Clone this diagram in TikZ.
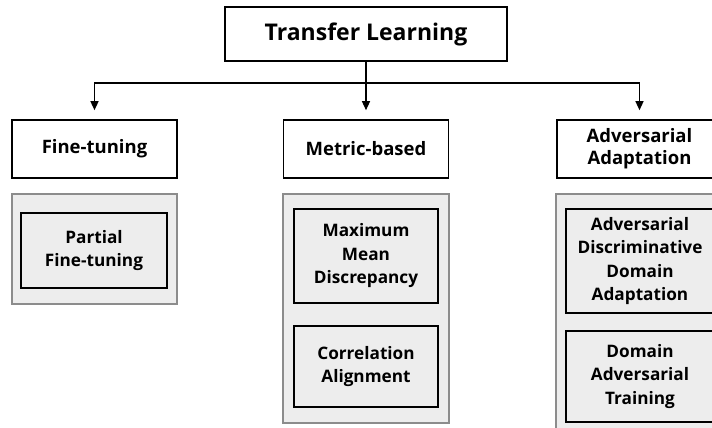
\documentclass[tikz,border=0pt]{standalone}
\usepackage{fontspec}
\setmainfont{Open Sans}
\usetikzlibrary{arrows.meta}
\definecolor{panelfill}{RGB}{237,237,237}
\definecolor{panelline}{RGB}{140,140,140}
\tikzset{
  catbox/.style={draw=black, line width=1.6pt, fill=white, minimum width=165pt,
    minimum height=58pt, align=center, font=\bfseries\fontsize{18.5}{22}\selectfont, inner sep=0pt},
  rootbox/.style={draw=black, line width=1.6pt, fill=white, minimum width=282pt,
    minimum height=54pt, font=\bfseries\fontsize{23}{27}\selectfont, inner sep=0pt},
  panel/.style={draw=panelline, line width=1.2pt, fill=panelfill},
  methodbox/.style={draw=black, line width=1.6pt, align=center, inner sep=0pt,
    font=\bfseries\fontsize{17.2}{23.5}\selectfont},
  link/.style={line width=1.3pt, -{Triangle[length=9pt,width=8pt]}, shorten >=9pt}
}
\begin{document}
\begin{tikzpicture}[x=1pt,y=-1pt]
\useasboundingbox (0,0) rectangle (712,428);
\begin{scope}
\clip (0,0) rectangle (712,428);

% grey panels holding the methods of each family
\draw[panel] (12,194) rectangle (177,304);
\draw[panel] (283,194) rectangle (449,423);
\draw[panel] (556,194) rectangle (724,440);

% root and the three families
\node[rootbox] (root) at (366,34) {Transfer Learning};
\node[catbox] (ft) at (94.5,149) {Fine-tuning};
\node[catbox] (mb) at (366,149) {Metric-based};
\node[catbox] (aa) at (639.5,149) {Adversarial\\Adaptation};

% methods
\node[methodbox, minimum width=146pt, minimum height=75pt] (pft) at (94,250.5) {Partial\\Fine-tuning};
\node[methodbox, minimum width=144pt, minimum height=94pt] (mmd) at (366,256) {Maximum\\Mean\\Discrepancy};
\node[methodbox, minimum width=144pt, minimum height=81pt] (coral) at (366,366.5) {Correlation\\Alignment};
\node[methodbox, minimum width=148pt, minimum height=104pt] (adda) at (640,261) {Adversarial\\Discriminative\\Domain\\Adaptation};
\node[methodbox, minimum width=148pt, minimum height=91pt] (dat) at (640,376.5) {Domain\\Adversarial\\Training};

% branching connectors
\coordinate (hub) at (366,83);
\draw[line width=1.3pt] (root.south) -- (hub);
\draw[link] (hub) -| (ft.north);
\draw[link] (hub) -- (mb.north);
\draw[link] (hub) -| (aa.north);
\end{scope}
\end{tikzpicture}
\end{document}
